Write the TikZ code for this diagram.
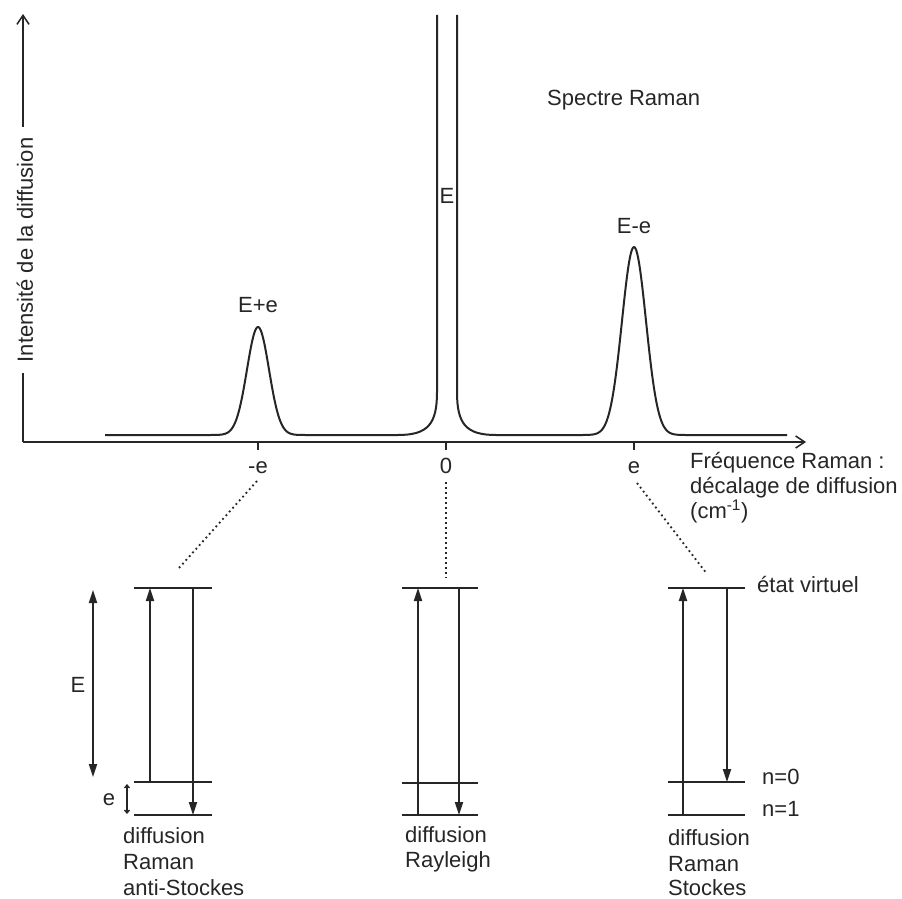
\documentclass[tikz,border=0pt]{standalone}
\usepackage{fontspec}
\setmainfont{Liberation Sans}
\usetikzlibrary{arrows.meta}
\definecolor{ink}{HTML}{262626}
\begin{document}
\begin{tikzpicture}[x=1pt,y=-1pt,
  lab/.style={font=\fontsize{22}{25}\selectfont, inner sep=0pt, text=ink},
  lvl/.style={draw=ink, line width=2pt},
  tr/.style={draw=ink, line width=1.8pt, -{Triangle[length=13pt,width=8pt]}},
  axis/.style={draw=ink, line width=1.8pt, -{Straight Barb[length=9pt,width=12pt,line width=1.5pt]}},
  spec/.style={draw=ink, line width=2pt, line join=round},
  dots/.style={draw=ink, line width=1.8pt, dash pattern=on 1.8pt off 3.2pt},
  tick/.style={draw=ink, line width=1.5pt}]
\useasboundingbox (0,0) rectangle (902,899);
\fill[white] (0,0) rectangle (902,899);
% axes
\coordinate (O) at (23,442);
\coordinate (Ytop) at (23,14);
\coordinate (Xend) at (806,442);
\draw[axis] (O) -- (Ytop);
\draw[axis] (O) -- (Xend);
\node[lab, rotate=90, fill=white, inner xsep=11pt, inner ysep=3pt] (ylab) at (25,250) {Intensité de la diffusion};
% spectrum
\draw[spec] (105,435) -- (200,435)
  -- plot[domain=200:316, samples=117] (\x, {435-108*exp(-0.5*((\x-258)/11)*((\x-258)/11))})
  -- (398,435) .. controls (428,435) and (437,424) .. (437,392) -- (437,15);
\draw[spec] (457,15) -- (457,392) .. controls (457,424) and (466,435) .. (496,435)
  -- (576,435)
  -- plot[domain=576:692, samples=117] (\x, {435-188*exp(-0.5*((\x-634)/12)*((\x-634)/12))})
  -- (787,435);
% ticks
\draw[tick] (258,442) -- (258,450);
\draw[tick] (446,442) -- (446,450);
\draw[tick] (634,442) -- (634,450);
\node[lab, anchor=base] (tm) at (258,473) {-e};
\node[lab, anchor=base] (t0) at (446,473) {0};
\node[lab, anchor=base] (tp) at (634,473) {e};
% peak labels
\node[lab, anchor=base] (pl) at (258,312) {E+e};
\node[lab, anchor=base] (pc) at (447,203) {E};
\node[lab, anchor=base] (pr) at (634,233) {E-e};
\node[lab, anchor=base west] (title) at (547,105) {Spectre Raman};
\node[lab, anchor=base west] (f1) at (690,468) {Fréquence Raman :};
\node[lab, anchor=base west] (f2) at (690,493) {décalage de diffusion};
\node[lab, anchor=base west] (f3) at (690,518) {(cm\textsuperscript{-1})};
% dotted links
\coordinate (dA1) at (257,481);
\coordinate (dA2) at (179,568);
\coordinate (dB1) at (446,482);
\coordinate (dB2) at (446,578);
\coordinate (dC1) at (637,483);
\coordinate (dC2) at (707,574);
\draw[dots] (dA1) -- (dA2);
\draw[dots] (dB1) -- (dB2);
\draw[dots] (dC1) -- (dC2);
% anti-Stokes levels
\coordinate (a1) at (134,588); \coordinate (a2) at (212,588);
\coordinate (a3) at (134,782); \coordinate (a4) at (212,782);
\coordinate (a5) at (134,815); \coordinate (a6) at (212,815);
\draw[lvl] (a1) -- (a2); \draw[lvl] (a3) -- (a4); \draw[lvl] (a5) -- (a6);
\draw[tr] (150,782) -- (150,588);
\draw[tr] (193,588) -- (193,815);
\draw[draw=ink, line width=1.8pt, {Triangle[length=13pt,width=8pt]}-{Triangle[length=13pt,width=8pt]}] (93,590) -- (93,777);
\node[lab, anchor=base] (Elab) at (78,692) {E};
\draw[draw=ink, line width=1.3pt, {Straight Barb[length=3pt,width=5pt]}-{Straight Barb[length=3pt,width=5pt]}] (127,784) -- (127,814);
\node[lab, anchor=base] (elab) at (109,805) {e};
\node[lab, anchor=base west] (as1) at (123,843) {diffusion};
\node[lab, anchor=base west] (as2) at (123,869) {Raman};
\node[lab, anchor=base west] (as3) at (123,895) {anti-Stockes};
% Rayleigh levels
\coordinate (r1) at (402,588); \coordinate (r2) at (478,588);
\coordinate (r3) at (402,783); \coordinate (r4) at (478,783);
\coordinate (r5) at (402,815); \coordinate (r6) at (478,815);
\draw[lvl] (r1) -- (r2); \draw[lvl] (r3) -- (r4); \draw[lvl] (r5) -- (r6);
\draw[tr] (418,815) -- (418,588);
\draw[tr] (459,588) -- (459,815);
\node[lab, anchor=base west] (ry1) at (405,842) {diffusion};
\node[lab, anchor=base west] (ry2) at (405,867) {Rayleigh};
% Stokes levels
\coordinate (s1) at (668,588); \coordinate (s2) at (745,588);
\coordinate (s3) at (668,782); \coordinate (s4) at (745,782);
\coordinate (s5) at (668,815); \coordinate (s6) at (745,815);
\draw[lvl] (s1) -- (s2); \draw[lvl] (s3) -- (s4); \draw[lvl] (s5) -- (s6);
\draw[tr] (683,815) -- (683,588);
\draw[tr] (727,588) -- (727,782);
\node[lab, anchor=base west] (ev) at (757,592) {état virtuel};
\node[lab, anchor=base west] (n0) at (762,784) {n=0};
\node[lab, anchor=base west] (n1) at (762,816) {n=1};
\node[lab, anchor=base west] (st1) at (668,845) {diffusion};
\node[lab, anchor=base west] (st2) at (668,871) {Raman};
\node[lab, anchor=base west] (st3) at (668,895) {Stockes};
\end{tikzpicture}
\end{document}
